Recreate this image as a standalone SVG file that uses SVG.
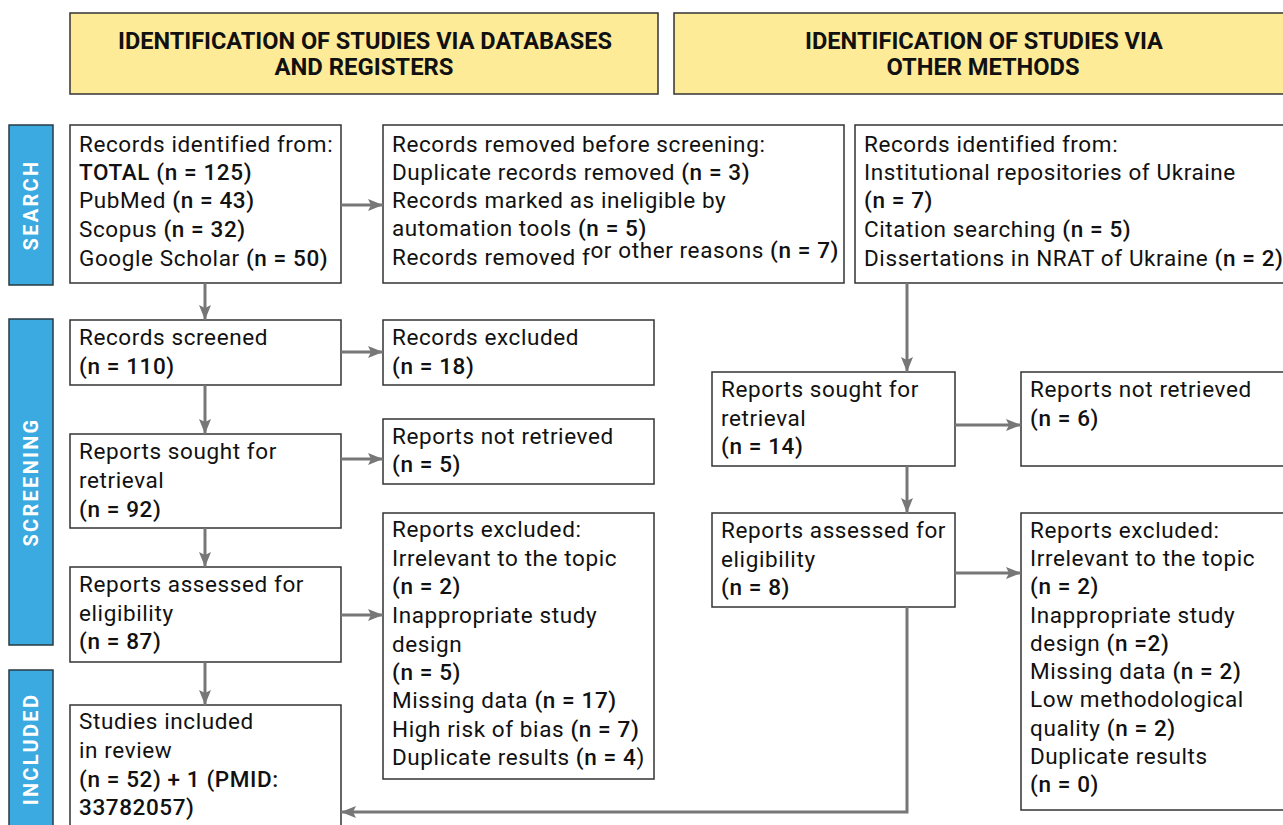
<svg xmlns="http://www.w3.org/2000/svg" width="1283" height="825" viewBox="0 0 1283 825">
<defs>
<style>
.hdr{fill:#FEEB98;stroke:#333;stroke-width:1.5}
.side{fill:#3AAAE0;stroke:#2a3a44;stroke-width:1.5}
.box{fill:#fff;stroke:#333;stroke-width:1.5}
.ht{font-family:Roboto,"Liberation Sans",sans-serif;font-weight:700;font-size:23px;fill:#111;text-anchor:middle}
.st{font-family:Roboto,"Liberation Sans",sans-serif;font-weight:700;font-size:20px;fill:#fff;text-anchor:middle;letter-spacing:2.3px}
.t{font-family:Roboto,"Liberation Sans",sans-serif;font-size:22.5px;fill:#111;letter-spacing:0.6px}
.b{font-weight:500}
.c{fill:none;stroke:#777;stroke-width:3}
</style>
<marker id="ah" markerUnits="userSpaceOnUse" markerWidth="16" markerHeight="14" refX="15" refY="7" orient="auto">
<path d="M0,1 L15,7 L0,13 L3,7 Z" fill="#777"/>
</marker>
</defs>
<rect width="1283" height="825" fill="#fff"/>

<g id="header-databases">
<rect class="hdr" x="70" y="13" width="588" height="81"/>
<text class="ht" x="365" y="49" textLength="494" lengthAdjust="spacingAndGlyphs">IDENTIFICATION OF STUDIES VIA DATABASES</text>
<text class="ht" x="364" y="75" textLength="179" lengthAdjust="spacingAndGlyphs">AND REGISTERS</text>
</g>
<g id="header-other">
<rect class="hdr" x="674" y="13" width="620" height="81"/>
<text class="ht" x="984" y="49" textLength="358" lengthAdjust="spacingAndGlyphs">IDENTIFICATION OF STUDIES VIA</text>
<text class="ht" x="983" y="75" textLength="193" lengthAdjust="spacingAndGlyphs">OTHER METHODS</text>
</g>

<g id="label-search">
<rect class="side" x="9" y="125" width="44" height="160"/>
<text class="st" transform="translate(38,205) rotate(-90)">SEARCH</text>
</g>
<g id="label-screening">
<rect class="side" x="9" y="319" width="44" height="326"/>
<text class="st" transform="translate(38,482) rotate(-90)">SCREENING</text>
</g>
<g id="label-included">
<rect class="side" x="9" y="670" width="44" height="170"/>
<text class="st" transform="translate(38,749) rotate(-90)">INCLUDED</text>
</g>

<g id="records-identified">
<rect class="box" x="70" y="125" width="271" height="158"/>
<text class="t" x="79" y="152">Records identified from:</text>
<text class="t b" x="79" y="180">TOTAL (n = 125)</text>
<text class="t" x="79" y="208">PubMed <tspan class="b">(n = 43)</tspan></text>
<text class="t" x="79" y="237">Scopus <tspan class="b">(n = 32)</tspan></text>
<text class="t" x="79" y="266">Google Scholar <tspan class="b">(n = 50)</tspan></text>
</g>

<g id="records-removed">
<rect class="box" x="383" y="125" width="461" height="158"/>
<text class="t" x="392" y="152">Records removed before screening:</text>
<text class="t" x="392" y="180">Duplicate records removed <tspan class="b">(n = 3)</tspan></text>
<text class="t" x="392" y="208">Records marked as ineligible by</text>
<text class="t" x="392" y="236">automation tools <tspan class="b">(n = 5)</tspan></text>
<text class="t" x="392" y="265">Records removed f<tspan dy="-7">or other reasons </tspan><tspan class="b">(n = 7)</tspan></text>
</g>

<g id="other-records-identified">
<rect class="box" x="855" y="125" width="440" height="158"/>
<text class="t" x="864" y="152">Records identified from:</text>
<text class="t" x="864" y="180">Institutional repositories of Ukraine</text>
<text class="t b" x="864" y="208">(n = 7)</text>
<text class="t" x="864" y="237">Citation searching <tspan class="b">(n = 5)</tspan></text>
<text class="t" x="864" y="266">Dissertations in NRAT of Ukraine <tspan class="b">(n = 2)</tspan></text>
</g>

<g id="records-screened">
<rect class="box" x="70" y="320" width="271" height="65"/>
<text class="t" x="79" y="345">Records screened</text>
<text class="t b" x="79" y="374">(n = 110)</text>
</g>
<g id="records-excluded">
<rect class="box" x="383" y="320" width="271" height="65"/>
<text class="t" x="392" y="345">Records excluded</text>
<text class="t b" x="392" y="374">(n = 18)</text>
</g>

<g id="reports-sought">
<rect class="box" x="70" y="434" width="271" height="94"/>
<text class="t" x="79" y="459">Reports sought for</text>
<text class="t" x="79" y="488">retrieval</text>
<text class="t b" x="79" y="517">(n = 92)</text>
</g>
<g id="reports-not-retrieved">
<rect class="box" x="383" y="419" width="271" height="65"/>
<text class="t" x="392" y="444">Reports not retrieved</text>
<text class="t b" x="392" y="472">(n = 5)</text>
</g>

<g id="reports-assessed">
<rect class="box" x="70" y="567" width="271" height="95"/>
<text class="t" x="79" y="592">Reports assessed for</text>
<text class="t" x="79" y="621">eligibility</text>
<text class="t b" x="79" y="649">(n = 87)</text>
</g>
<g id="reports-excluded">
<rect class="box" x="383" y="513" width="271" height="266"/>
<text class="t" x="392" y="537">Reports excluded:</text>
<text class="t" x="392" y="566">Irrelevant to the topic</text>
<text class="t b" x="392" y="594">(n = 2)</text>
<text class="t" x="392" y="623">Inappropriate study</text>
<text class="t" x="392" y="652">design</text>
<text class="t b" x="392" y="680">(n = 5)</text>
<text class="t" x="392" y="708">Missing data <tspan class="b">(n = 17)</tspan></text>
<text class="t" x="392" y="737">High risk of bias <tspan class="b">(n = 7)</tspan></text>
<text class="t" x="392" y="765">Duplicate results <tspan class="b">(n = 4</tspan>)</text>
</g>

<g id="studies-included">
<rect class="box" x="70" y="705" width="271" height="130"/>
<text class="t" x="79" y="729">Studies included</text>
<text class="t" x="79" y="758">in review</text>
<text class="t b" x="79" y="787">(n = 52) + 1 (PMID:</text>
<text class="t b" x="79" y="815">33782057)</text>
</g>

<g id="other-reports-sought">
<rect class="box" x="712" y="372" width="243" height="94"/>
<text class="t" x="721" y="397">Reports sought for</text>
<text class="t" x="721" y="426">retrieval</text>
<text class="t b" x="721" y="454">(n = 14)</text>
</g>
<g id="other-reports-not-retrieved">
<rect class="box" x="1021" y="372" width="275" height="94"/>
<text class="t" x="1030" y="397">Reports not retrieved</text>
<text class="t b" x="1030" y="426">(n = 6)</text>
</g>

<g id="other-reports-assessed">
<rect class="box" x="712" y="513" width="243" height="94"/>
<text class="t" x="721" y="538">Reports assessed for</text>
<text class="t" x="721" y="567">eligibility</text>
<text class="t b" x="721" y="595">(n = 8)</text>
</g>
<g id="other-reports-excluded">
<rect class="box" x="1021" y="513" width="275" height="297"/>
<text class="t" x="1030" y="538">Reports excluded:</text>
<text class="t" x="1030" y="566">Irrelevant to the topic</text>
<text class="t b" x="1030" y="594">(n = 2)</text>
<text class="t" x="1030" y="623">Inappropriate study</text>
<text class="t" x="1030" y="651">design <tspan class="b">(n =2)</tspan></text>
<text class="t" x="1030" y="679">Missing data <tspan class="b">(n = 2)</tspan></text>
<text class="t" x="1030" y="707">Low methodological</text>
<text class="t" x="1030" y="736">quality <tspan class="b">(n = 2)</tspan></text>
<text class="t" x="1030" y="764">Duplicate results</text>
<text class="t b" x="1030" y="792">(n = 0)</text>
</g>

<g id="connectors">
<path class="c" d="M341,205 H383" marker-end="url(#ah)"/>
<path class="c" d="M205,283 V320" marker-end="url(#ah)"/>
<path class="c" d="M341,352 H383" marker-end="url(#ah)"/>
<path class="c" d="M205,385 V434" marker-end="url(#ah)"/>
<path class="c" d="M341,459 H383" marker-end="url(#ah)"/>
<path class="c" d="M205,528 V567" marker-end="url(#ah)"/>
<path class="c" d="M341,615 H383" marker-end="url(#ah)"/>
<path class="c" d="M205,662 V705" marker-end="url(#ah)"/>
<path class="c" d="M907,283 V372" marker-end="url(#ah)"/>
<path class="c" d="M955,425 H1021" marker-end="url(#ah)"/>
<path class="c" d="M907,466 V513" marker-end="url(#ah)"/>
<path class="c" d="M955,573 H1021" marker-end="url(#ah)"/>
<path class="c" d="M907,607 V812 H341" marker-end="url(#ah)"/>
</g>
</svg>
